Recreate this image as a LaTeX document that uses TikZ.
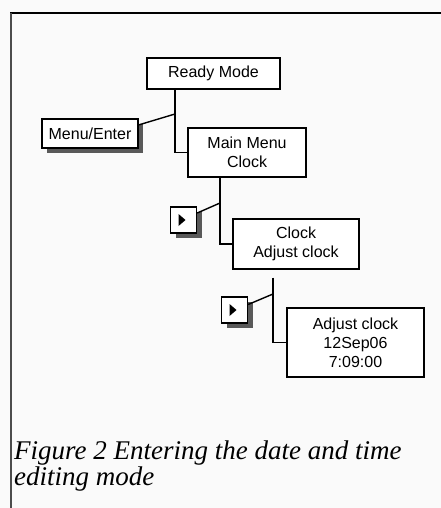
\documentclass[tikz,border=0pt]{standalone}
\usepackage{fontspec}
\newfontfamily\labelfont{Liberation Sans}
\newfontfamily\captionfont{Liberation Serif}
\usetikzlibrary{shadows}
\definecolor{paper}{RGB}{250,250,250}
\begin{document}
\begin{tikzpicture}
    [
    x=1pt, y=-1pt,
    screen/.style={rectangle,draw,line width=1.4pt,fill=white,inner sep=0pt,align=center,
      font=\labelfont\fontsize{16}{19}\selectfont},
    shadowed/.style={drop shadow={shadow xshift=5pt,shadow yshift=-5pt,fill=black!65,opacity=1}},
    key/.style={screen,shadowed,minimum width=26pt,minimum height=26pt},
    link/.style={line width=1.4pt}
    ]
    \useasboundingbox[fill=paper] (0,0) rectangle (441,508);
    \draw [line width=2.2pt] (10,13) -- (441,13);
    \draw [line width=1.6pt, black!70] (11,13) -- (11,508);
    % screens
    \node (ready)  at (213.5,73.5) [screen, minimum width=133pt, minimum height=31pt] {Ready Mode};
    \node (menu)   at (90,133.5)   [screen, shadowed, minimum width=96pt, minimum height=29pt] {Menu/Enter};
    \node (main)   at (247,152.5)  [screen, minimum width=118pt, minimum height=49pt] {Main Menu\\Clock};
    \node (clock)  at (296,244)    [screen, minimum width=126pt, minimum height=50pt] {Clock\\Adjust clock};
    \node (adjust) at (355.5,342.5) [screen, minimum width=137pt, minimum height=69pt] {Adjust clock\\12Sep06\\7:09:00};
    % keys
    \node (keyA) at (183.5,220) [key] {};
    \node (keyB) at (234.5,310) [key] {};
    \foreach \k in {keyA,keyB}
      \fill ([xshift=-5pt,yshift=6pt]\k.center) -- ++(0pt,-12pt) -- ++(7pt,6pt) -- cycle;
    % joints
    \coordinate (j1) at (175,114);
    \coordinate (j2) at (220,203);
    \coordinate (j3) at (273,294);
    \draw [link] (ready.south -| j1) |- (main.west);
    \draw [link] (menu.10) to (j1);
    \draw [link] (main.south -| j2) |- (clock.west);
    \draw [link] (keyA.27) to (j2);
    \draw [link, shorten <=8pt] (clock.south -| j3) |- (adjust.west);
    \draw [link] (keyB.22) to (j3);
    % caption
    \node (caption) at (14,441) [anchor=north west, inner sep=0pt, align=left,
      font=\captionfont\itshape\fontsize{27}{24}\selectfont]
      {Figure 2 Entering the date and time\\editing mode};
  \end{tikzpicture}
\end{document}
